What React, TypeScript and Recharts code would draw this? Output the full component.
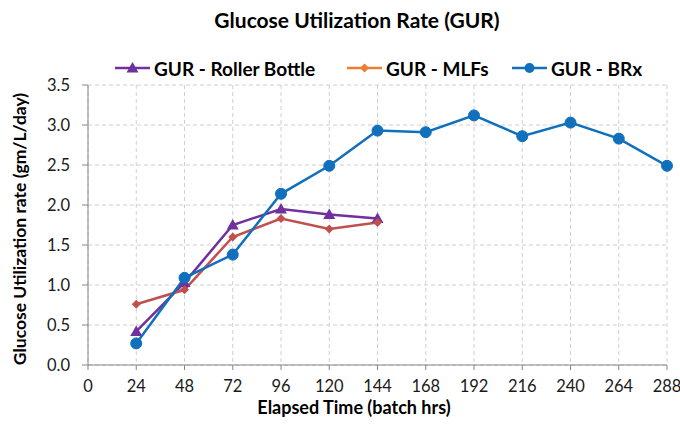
import React from 'react';
import { LineChart, Line, XAxis, YAxis, CartesianGrid } from 'recharts';

const hours = [24, 48, 72, 96, 120, 144, 168, 192, 216, 240, 264, 288];
const rollerBottle = [0.42, 1.03, 1.75, 1.95, 1.88, 1.83, null, null, null, null, null, null];
const mlfs = [0.76, 0.94, 1.6, 1.83, 1.7, 1.78, null, null, null, null, null, null];
const brx = [0.27, 1.09, 1.38, 2.14, 2.49, 2.93, 2.91, 3.12, 2.86, 3.03, 2.83, 2.49];
const xTicks = [0, 24, 48, 72, 96, 120, 144, 168, 192, 216, 240, 264, 288];
const yTicks = [0, 0.5, 1, 1.5, 2, 2.5, 3, 3.5];

const data = hours.map((h, i) => ({ h, rb: rollerBottle[i], mlf: mlfs[i], brx: brx[i] }));

const PURPLE = '#7030A0';
const RED = '#C0504D';
const ORANGE = '#ED7D31';
const BLUE = '#1070BC';
const FONT = 'Lato, "Open Sans", sans-serif';

const Triangle = (p: any) => {
  if (p.cx == null || p.cy == null || p.value == null) return <g key={p.key} />;
  const s = 6;
  return <path key={p.key} d={`M${p.cx},${p.cy - s} L${p.cx + s},${p.cy + s * 0.75} L${p.cx - s},${p.cy + s * 0.75} Z`} fill={PURPLE} />;
};
const Diamond = (p: any) => {
  if (p.cx == null || p.cy == null || p.value == null) return <g key={p.key} />;
  const s = 4.5;
  return <path key={p.key} d={`M${p.cx},${p.cy - s} L${p.cx + s},${p.cy} L${p.cx},${p.cy + s} L${p.cx - s},${p.cy} Z`} fill={RED} />;
};

const legendItems = [
  { label: 'GUR - Roller Bottle', color: PURPLE, shape: 'tri', x: 114 },
  { label: 'GUR - MLFs', color: ORANGE, shape: 'dia', x: 346 },
  { label: 'GUR - BRx', color: BLUE, shape: 'circ', x: 511 },
];

export default function App() {
  return (
    <div style={{ position: 'absolute', left: 0, top: 0, width: 680, height: 433, background: '#fff', fontFamily: FONT }}>
      <div style={{ position: 'absolute', top: 7, left: 0, width: 714, textAlign: 'center', fontWeight: 700, fontSize: 21, color: '#000', lineHeight: '26px' }}>
        Glucose Utilization Rate (GUR)
      </div>
      {legendItems.map((it) => (
        <div key={it.label} style={{ position: 'absolute', left: it.x, top: 56, height: 24, display: 'flex', alignItems: 'center', fontWeight: 700, fontSize: 19, color: '#000', whiteSpace: 'nowrap' }}>
          <svg width={37} height={14} style={{ marginRight: 3 }}>
            <line x1={1} y1={7} x2={36} y2={7} stroke={it.color} strokeWidth={2.5} />
            {it.shape === 'tri' && <path d="M18.5,1 L24.5,11.5 L12.5,11.5 Z" fill={it.color} />}
            {it.shape === 'dia' && <path d="M18.5,2.5 L23,7 L18.5,11.5 L14,7 Z" fill={it.color} />}
            {it.shape === 'circ' && <circle cx={18.5} cy={7} r={5} fill={it.color} />}
          </svg>
          <span>{it.label}</span>
        </div>
      ))}
      <div style={{ position: 'absolute', top: 395, left: 0, width: 708, textAlign: 'center', fontWeight: 700, fontSize: 18, color: '#000', lineHeight: '24px' }}>
        Elapsed Time (batch hrs)
      </div>
      <div style={{ position: 'absolute', left: 20, top: 229, transform: 'translate(-50%, -50%) rotate(-90deg)', whiteSpace: 'nowrap', fontWeight: 700, fontSize: 17.5, color: '#000', lineHeight: '22px' }}>
        Glucose Utilization rate (gm/L/day)
      </div>
      <LineChart width={680} height={433} data={data} margin={{ top: 85, right: 13, bottom: 38, left: 38 }} style={{ position: 'absolute', left: 0, top: 0 }}>
        <CartesianGrid stroke="#d0d0d0" strokeDasharray="4 3" />
        <XAxis
          dataKey="h"
          type="number"
          domain={[0, 288]}
          ticks={xTicks}
          interval={0}
          stroke="#868686"
          tick={{ fill: '#1a1a1a', fontSize: 16.5, fontFamily: FONT }}
          tickSize={5}
          tickMargin={10}
        />
        <YAxis
          type="number"
          domain={[0, 3.5]}
          ticks={yTicks}
          interval={0}
          width={50}
          stroke="#868686"
          tickFormatter={(v: number) => v.toFixed(1)}
          tick={{ fill: '#1a1a1a', fontSize: 16.5, fontFamily: FONT }}
          tickSize={6}
          tickMargin={12}
        />
        <Line dataKey="rb" stroke={PURPLE} strokeWidth={2.5} dot={Triangle} activeDot={false} isAnimationActive={false} connectNulls={false} />
        <Line dataKey="mlf" stroke={RED} strokeWidth={2.5} dot={Diamond} activeDot={false} isAnimationActive={false} connectNulls={false} />
        <Line dataKey="brx" stroke={BLUE} strokeWidth={2.5} dot={{ r: 5.5, fill: BLUE, stroke: BLUE, strokeWidth: 1 }} activeDot={false} isAnimationActive={false} />
      </LineChart>
    </div>
  );
}
